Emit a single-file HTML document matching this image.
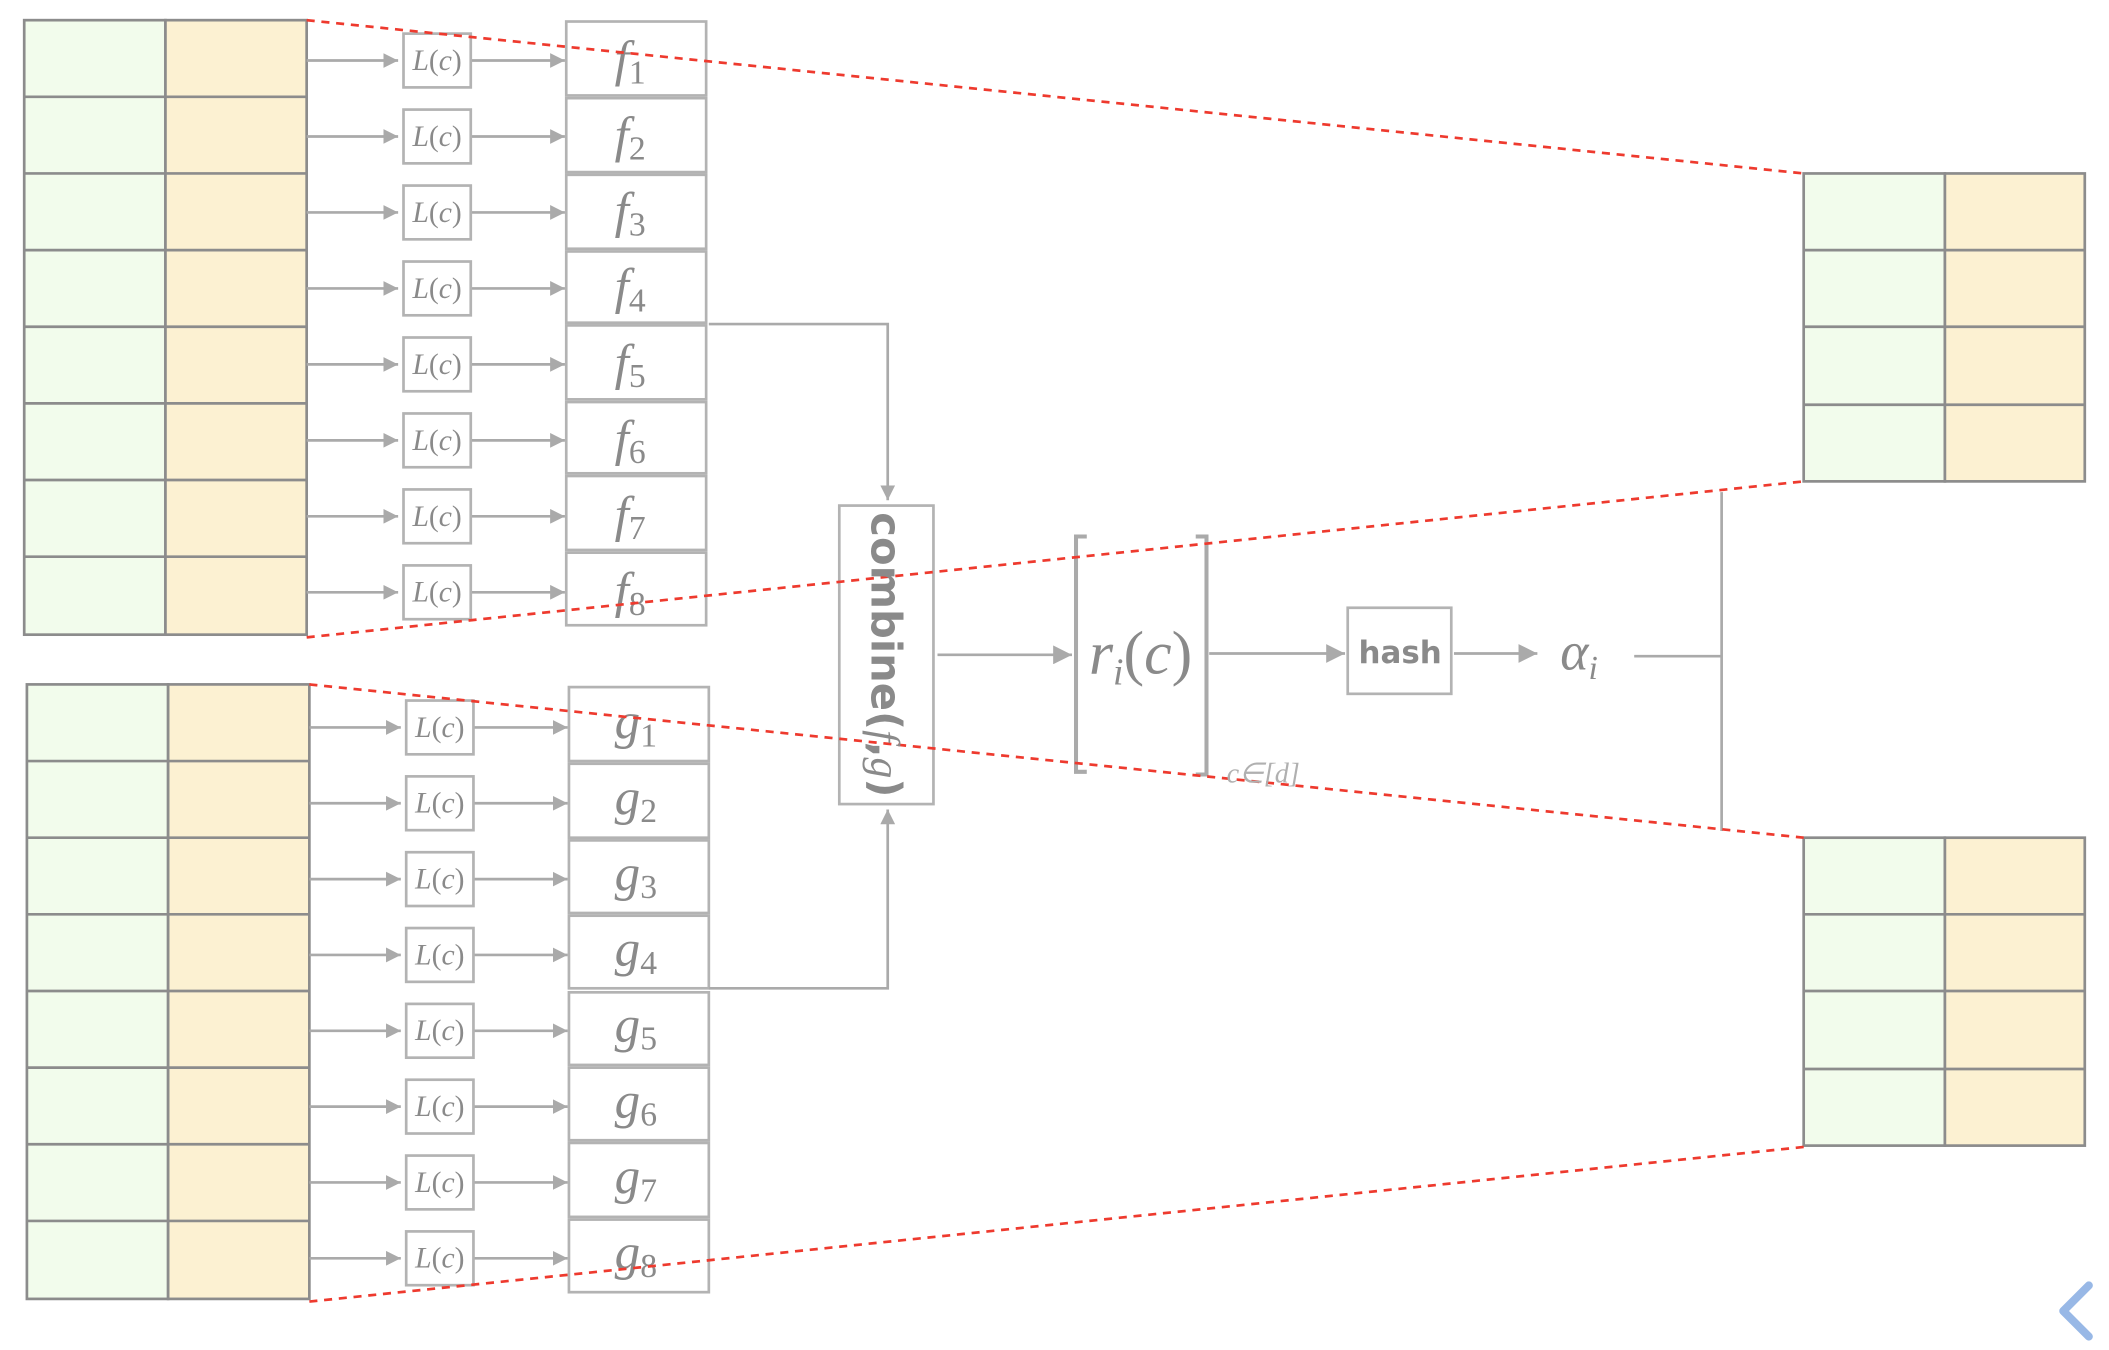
<!DOCTYPE html>
<html><head><meta charset="utf-8"><style>
html,body{margin:0;padding:0;background:#fff;}
svg{display:block;}
.m{font-family:"Liberation Serif",serif;font-style:italic;fill:#8a8a8a;}
.n{font-style:normal;}
.ln{stroke:#aaa;stroke-width:2;fill:none;}
.bx{fill:#fff;stroke:#b3b3b3;stroke-width:2;}
</style></head><body>
<svg width="2109" height="1350" viewBox="0 0 1568 1004" preserveAspectRatio="none" xmlns="http://www.w3.org/2000/svg">
<defs>
<marker id="a" viewBox="0 0 10 10" refX="10" refY="5" markerWidth="11" markerHeight="11" markerUnits="userSpaceOnUse" orient="auto"><path d="M0,0L10,5L0,10z" fill="#aaa"/></marker>
<marker id="b" viewBox="0 0 10 10" refX="10" refY="5" markerWidth="14" markerHeight="14" markerUnits="userSpaceOnUse" orient="auto"><path d="M0,0L10,5L0,10z" fill="#aaa"/></marker>
<g id="row">
<path class="ln" d="M0 0H68" marker-end="url(#a)"/>
<path class="ln" d="M122 0H192" marker-end="url(#a)"/>
<rect class="bx" x="72" y="-20" width="50" height="40"/>
<text x="97" y="7" text-anchor="middle" class="m" font-size="22">L<tspan class="n">(</tspan>c<tspan class="n">)</tspan></text>
</g>
</defs>
<g stroke="#8c8c8c" stroke-width="2">
<rect x="18" y="15" width="105" height="457" fill="#f2fcec"/>
<rect x="123" y="15" width="105" height="457" fill="#fcf1d2"/>
<path d="M18 72H228M18 129H228M18 186H228M18 243H228M18 300H228M18 357H228M18 414H228"/>
<rect x="20" y="509" width="105" height="457" fill="#f2fcec"/>
<rect x="125" y="509" width="105" height="457" fill="#fcf1d2"/>
<path d="M20 566H230M20 623H230M20 680H230M20 737H230M20 794H230M20 851H230M20 908H230"/>
<rect x="1341" y="129" width="105" height="229" fill="#f2fcec"/>
<rect x="1446" y="129" width="104" height="229" fill="#fcf1d2"/>
<path d="M1341 186H1550M1341 243H1550M1341 301H1550"/>
<rect x="1341" y="623" width="105" height="229" fill="#f2fcec"/>
<rect x="1446" y="623" width="104" height="229" fill="#fcf1d2"/>
<path d="M1341 680H1550M1341 737H1550M1341 795H1550"/>
</g>
<g class="bx">
<rect x="421" y="16" width="104" height="55"/><rect x="421" y="73" width="104" height="55"/>
<rect x="421" y="130" width="104" height="55"/><rect x="421" y="187" width="104" height="53"/>
<rect x="421" y="242" width="104" height="55"/><rect x="421" y="299" width="104" height="53"/>
<rect x="421" y="354" width="104" height="55"/><rect x="421" y="411" width="104" height="54"/>
<rect x="423" y="511" width="104" height="55"/><rect x="423" y="568" width="104" height="55"/>
<rect x="423" y="625" width="104" height="54"/><rect x="423" y="681" width="104" height="54"/>
<rect x="423" y="738" width="104" height="54"/><rect x="423" y="794" width="104" height="54"/>
<rect x="423" y="850" width="104" height="55"/><rect x="423" y="907" width="104" height="54"/>
</g>
<use href="#row" x="228" y="45"/><use href="#row" x="228" y="101.5"/>
<use href="#row" x="228" y="158"/><use href="#row" x="228" y="214.5"/>
<use href="#row" x="228" y="271"/><use href="#row" x="228" y="327.5"/>
<use href="#row" x="228" y="384"/><use href="#row" x="228" y="440.5"/>
<use href="#row" x="230" y="541"/><use href="#row" x="230" y="597.4"/>
<use href="#row" x="230" y="653.8"/><use href="#row" x="230" y="710.2"/>
<use href="#row" x="230" y="766.6"/><use href="#row" x="230" y="823"/>
<use href="#row" x="230" y="879.4"/><use href="#row" x="230" y="935.8"/>
<g class="m" font-size="38">
<text x="457" y="56">f<tspan class="n" font-size="25" dy="6">1</tspan></text>
<text x="457" y="112.5">f<tspan class="n" font-size="25" dy="6">2</tspan></text>
<text x="457" y="169">f<tspan class="n" font-size="25" dy="6">3</tspan></text>
<text x="457" y="225.5">f<tspan class="n" font-size="25" dy="6">4</tspan></text>
<text x="457" y="282">f<tspan class="n" font-size="25" dy="6">5</tspan></text>
<text x="457" y="338.5">f<tspan class="n" font-size="25" dy="6">6</tspan></text>
<text x="457" y="395">f<tspan class="n" font-size="25" dy="6">7</tspan></text>
<text x="457" y="451.5">f<tspan class="n" font-size="25" dy="6">8</tspan></text>
<text x="457" y="549">g<tspan class="n" font-size="25" dy="6">1</tspan></text>
<text x="457" y="605.4">g<tspan class="n" font-size="25" dy="6">2</tspan></text>
<text x="457" y="661.8">g<tspan class="n" font-size="25" dy="6">3</tspan></text>
<text x="457" y="718.2">g<tspan class="n" font-size="25" dy="6">4</tspan></text>
<text x="457" y="774.6">g<tspan class="n" font-size="25" dy="6">5</tspan></text>
<text x="457" y="831">g<tspan class="n" font-size="25" dy="6">6</tspan></text>
<text x="457" y="887.4">g<tspan class="n" font-size="25" dy="6">7</tspan></text>
<text x="457" y="943.8">g<tspan class="n" font-size="25" dy="6">8</tspan></text>
</g>
<g class="ln">
<path d="M527 241H660V372" marker-end="url(#a)"/>
<path d="M527 735H660V602" marker-end="url(#a)"/>
<rect x="624" y="376" width="70" height="222" fill="#fff" stroke="#b3b3b3"/>
<path d="M697 487H797" marker-end="url(#b)"/>
<path d="M808 399H800V574H808M889 399H897V576H889" stroke-width="3"/>
<path d="M899 486H1000" marker-end="url(#b)"/>
<rect x="1002" y="452" width="77" height="64" stroke="#b3b3b3"/>
<path d="M1081 486H1143" marker-end="url(#b)"/>
<path d="M1215 488H1280M1280 366V618"/>
</g>
<g stroke="#ee3a2e" stroke-width="2" stroke-dasharray="6,5" fill="none">
<path d="M228 15L1341 129M228 474L1341 358M230 509L1341 623M230 968L1341 853"/>
</g>
<text transform="translate(648,487) rotate(90)" text-anchor="middle" font-family="'DejaVu Sans',sans-serif" font-size="31" font-weight="bold" fill="#8a8a8a">combine(<tspan font-family="'Liberation Serif',serif" font-style="italic" font-weight="normal">f</tspan>,<tspan font-family="'Liberation Serif',serif" font-style="italic" font-weight="normal">g</tspan>)</text>
<text x="848" y="501" text-anchor="middle" class="m" font-size="46">r<tspan font-size="28" dy="8">i</tspan><tspan dy="-8" class="n">(</tspan>c<tspan class="n">)</tspan></text>
<text x="912" y="582" class="m" font-size="21" style="fill:#b0b0b0">c∈[d]</text>
<text x="1041" y="493" text-anchor="middle" font-family="'DejaVu Sans',sans-serif" font-weight="bold" font-size="23" fill="#8a8a8a">hash</text>
<text x="1160" y="498" class="m" font-size="40">α<tspan font-size="25" dy="7">i</tspan></text>
<path d="M1553 956L1534 975L1553 994" stroke="#98b8e6" stroke-width="6" fill="none" stroke-linecap="round" stroke-linejoin="round"/>
</svg>
</body></html>
